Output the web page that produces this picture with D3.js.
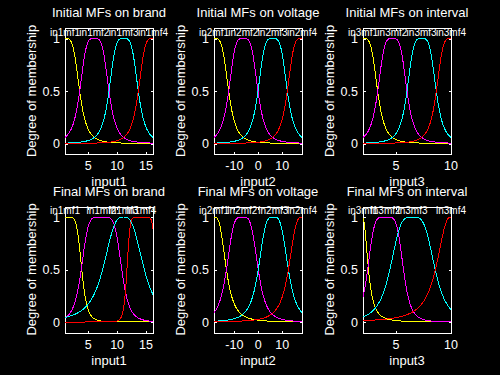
<!DOCTYPE html>
<html>
<head>
<meta charset="utf-8">
<script src="https://cdn.jsdelivr.net/npm/d3@7"></script>
<style>
  html, body { margin: 0; padding: 0; background: #000; }
  svg { display: block; font-family: "Liberation Sans", Arial, Helvetica, sans-serif; }
</style>
</head>
<body>
<svg id="chart" width="500" height="375"></svg>
<script>
// input ranges and ticks
var brandRange    = [1, 16.2];
var voltageRange  = [-18.5, 18.3];
var intervalRange = [2, 10];

var brandTicks    = [5, 10, 15];
var voltageTicks  = [-10, 0, 10];
var intervalTicks = [5, 10];
var yTicks        = [0, 0.5, 1];

var input1Names = ["in1mf1", "in1mf2", "in1mf3", "in1mf4"];
var input2Names = ["in2mf1", "in2mf2", "in2mf3", "in2mf4"];
var input3Names = ["in3mf1", "in3mf2", "in3mf3", "in3mf4"];

// gbellmf params [a, b, c]
var brandInit    = [[2.53, 2, 1.0], [2.53, 2, 6.07], [2.53, 2, 11.13], [2.53, 2, 16.2]];
var voltageInit  = [[6.13, 2, -18.5], [6.13, 2, -6.23], [6.13, 2, 6.03], [6.13, 2, 18.3]];
var intervalInit = [[1.33, 2, 2.0], [1.33, 2, 4.67], [1.33, 2, 7.33], [1.33, 2, 10.0]];

var brandFinal    = [[2.9, 3.1, 1.0], [3.5, 2.7, 7.3], [3.6, 1.5, 11.1], [2.5, 4.5, 14.2]];
var voltageFinal  = [[5.2, 1.6, -18.5], [6.65, 2, -6.65], [6.3, 1.8, 6.3], [5.9, 1.6, 18.5]];
var intervalFinal = [[0.6, 1.3, 1.9], [1.63, 2.5, 4.05], [2.06, 1.9, 6.5], [1.42, 1.25, 10.0]];

var mfColors = ["#ffff00", "#ff00ff", "#00ffff", "#ff0000"];

var panels = [
  { title: "Initial MFs on brand",    xlabel: "input1", range: brandRange,    ticks: brandTicks,    mfs: brandInit,     names: input1Names },
  { title: "Initial MFs on voltage",  xlabel: "input2", range: voltageRange,  ticks: voltageTicks,  mfs: voltageInit,   names: input2Names },
  { title: "Initial MFs on interval", xlabel: "input3", range: intervalRange, ticks: intervalTicks, mfs: intervalInit,  names: input3Names },
  { title: "Final MFs on brand",      xlabel: "input1", range: brandRange,    ticks: brandTicks,    mfs: brandFinal,    names: input1Names },
  { title: "Final MFs on voltage",    xlabel: "input2", range: voltageRange,  ticks: voltageTicks,  mfs: voltageFinal,  names: input2Names },
  { title: "Final MFs on interval",   xlabel: "input3", range: intervalRange, ticks: intervalTicks, mfs: intervalFinal, names: input3Names }
];

// layout
var colLeft = [65, 214, 363];
var rowTop  = [28, 206.5];
var axW = 88, axH = 126;

function gbell(x, p) {
  return 1 / (1 + Math.pow(Math.abs((x - p[2]) / p[0]), 2 * p[1]));
}

var svg = d3.select("#chart");

panels.forEach(function(pn, k) {
  var left = colLeft[k % 3], top = rowTop[Math.floor(k / 3)];

  var x = d3.scaleLinear().domain(pn.range).range([left, left + axW]);
  var y = d3.scaleLinear().domain([-0.1, 1.1]).range([top + axH, top]);

  var g = svg.append("g");

  // box
  g.append("rect")
    .attr("x", left + 0.5).attr("y", top + 0.5)
    .attr("width", axW).attr("height", axH)
    .attr("fill", "none").attr("stroke", "#fff").attr("stroke-width", 1)
    .attr("shape-rendering", "crispEdges");

  // inward ticks on all sides
  pn.ticks.forEach(function(t) {
    var px = Math.round(x(t)) + 0.5;
    g.append("line").attr("x1", px).attr("x2", px)
      .attr("y1", top + axH).attr("y2", top + axH - 2)
      .attr("stroke", "#fff").attr("shape-rendering", "crispEdges");
    g.append("line").attr("x1", px).attr("x2", px)
      .attr("y1", top + 1).attr("y2", top + 3)
      .attr("stroke", "#fff").attr("shape-rendering", "crispEdges");
    g.append("text")
      .attr("x", x(t)).attr("y", top + axH + 16)
      .attr("text-anchor", "middle")
      .attr("fill", "#fff").style("font-size", "12.5px")
      .text(t);
  });
  yTicks.forEach(function(t) {
    var py = Math.round(y(t)) + 0.5;
    g.append("line").attr("x1", left + 1).attr("x2", left + 3)
      .attr("y1", py).attr("y2", py)
      .attr("stroke", "#fff").attr("shape-rendering", "crispEdges");
    g.append("line").attr("x1", left + axW).attr("x2", left + axW - 2)
      .attr("y1", py).attr("y2", py)
      .attr("stroke", "#fff").attr("shape-rendering", "crispEdges");
    g.append("text")
      .attr("x", left - 5).attr("y", y(t) + 4.5)
      .attr("text-anchor", "end")
      .attr("fill", "#fff").style("font-size", "12.5px")
      .text(t);
  });

  // curves
  var xs = d3.range(181).map(function(i) {
    return pn.range[0] + i * (pn.range[1] - pn.range[0]) / 180;
  });
  var line = d3.line()
    .x(function(d) { return x(d[0]); })
    .y(function(d) { return y(d[1]); });

  pn.mfs.forEach(function(p, i) {
    g.append("path")
      .datum(xs.map(function(v) { return [v, gbell(v, p)]; }))
      .attr("d", line)
      .attr("fill", "none")
      .attr("stroke", mfColors[i])
      .attr("stroke-width", 1)
      .attr("shape-rendering", "crispEdges");
  });

  // MF names
  pn.mfs.forEach(function(p, i) {
    var cx = Math.max(pn.range[0], Math.min(pn.range[1], p[2]));
    g.append("text")
      .attr("x", x(cx)).attr("y", y(1) - 3)
      .attr("text-anchor", "middle")
      .attr("fill", "#fff").style("font-size", "10px")
      .text(pn.names[i]);
  });

  // title and labels
  g.append("text")
    .attr("x", left + axW / 2).attr("y", top - 11)
    .attr("text-anchor", "middle")
    .attr("fill", "#fff").style("font-size", "13px")
    .text(pn.title);

  g.append("text")
    .attr("x", left + axW / 2).attr("y", top + axH + 32)
    .attr("text-anchor", "middle")
    .attr("fill", "#fff").style("font-size", "13px")
    .text(pn.xlabel);

  g.append("text")
    .attr("transform", "translate(" + (left - 29) + "," + (top + axH / 2) + ") rotate(-90)")
    .attr("text-anchor", "middle")
    .attr("fill", "#fff").style("font-size", "13px")
    .text("Degree of membership");
});
</script>
</body>
</html>
